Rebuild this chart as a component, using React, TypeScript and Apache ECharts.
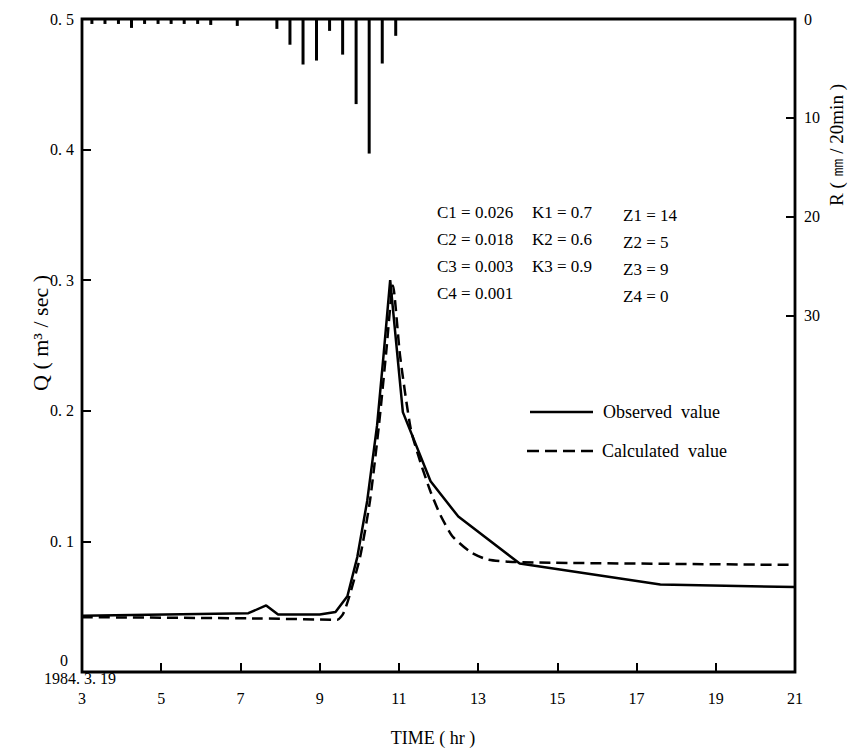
import React, { useEffect, useRef } from "react";
import * as echarts from "echarts";

// ---- data ----
const xTickLabels = [3, 5, 7, 9, 11, 13, 15, 17, 19, 21];
const xTicks = [5, 7, 9, 11, 13, 15, 17, 19];
const rTickLabels = [0, 10, 20, 30];
const rTicks = [10, 20, 30];

const obsTime = [3, 7.2, 7.65, 7.95, 9.0, 9.4, 9.7, 9.95, 10.2, 10.45, 10.62, 10.78, 11.1, 11.8, 12.5, 14.05, 17.6, 21];
const obsQ = [0.043, 0.045, 0.051, 0.044, 0.044, 0.046, 0.058, 0.088, 0.131, 0.189, 0.245, 0.3, 0.199, 0.146, 0.119, 0.083, 0.067, 0.065];

const calTime = [3, 7.5, 9.45, 9.6, 9.75, 10.02, 10.27, 10.5, 10.68, 10.85, 11.03, 11.3, 11.55, 11.8, 12.05, 12.35, 12.8, 13.25, 14.1, 21];
const calQ = [0.042, 0.041, 0.04, 0.045, 0.058, 0.088, 0.131, 0.19, 0.245, 0.296, 0.242, 0.186, 0.16, 0.138, 0.12, 0.104, 0.092, 0.086, 0.084, 0.082];

const rainTime = [3.25, 3.58, 3.92, 4.25, 4.58, 4.92, 5.25, 5.58, 5.92, 6.25, 6.92, 7.92, 8.25, 8.58, 8.92, 9.25, 9.58, 9.92, 10.25, 10.58, 10.92];
const rainMM = [0.5, 0.5, 0.5, 0.9, 0.5, 0.5, 0.5, 0.5, 0.5, 0.6, 0.7, 1.0, 2.6, 4.6, 4.2, 1.2, 3.6, 8.6, 13.6, 4.5, 1.7];

const paramC = ["C1 = 0.026", "C2 = 0.018", "C3 = 0.003", "C4 = 0.001"];
const paramK = ["K1 = 0.7", "K2 = 0.6", "K3 = 0.9"];
const paramZ = ["Z1 = 14", "Z2 = 5", "Z3 = 9", "Z4 = 0"];

const legendNames = ["Observed  value", "Calculated  value"];

const FONT = "'Liberation Serif', 'DejaVu Serif', serif";
const DASH = [11, 6];

export default function App() {
  const ref = useRef<HTMLDivElement>(null);
  useEffect(() => {
    document.body.style.margin = "0";
    const chart = echarts.init(ref.current!, null, { renderer: "svg" });
    const txt = (text: string, x: number, y: number, size: number, align = "left", rotation = 0) => ({
      type: "text",
      x,
      y,
      rotation,
      style: {
        text,
        fontFamily: FONT,
        fontSize: size,
        fill: "#000",
        align,
        verticalAlign: "middle",
      },
    });
    const graphics: any[] = [];
    paramC.forEach((t, i) => graphics.push(txt(t, 437, 212 + i * 27, 17)));
    paramK.forEach((t, i) => graphics.push(txt(t, 532, 212 + i * 27, 17)));
    paramZ.forEach((t, i) => graphics.push(txt(t, 623, 215 + i * 27, 17)));
    graphics.push(txt("0", 64, 660, 16, "center"));
    graphics.push(txt("1984. 3. 19", 80, 678, 16, "center"));
    graphics.push(txt("TIME ( hr )", 433, 738, 18, "center"));
    graphics.push(txt("Q ( m³ / sec )", 40, 333, 22, "center", Math.PI / 2));
    graphics.push(txt("R ( ㎜ / 20min )", 836, 145, 19, "center", Math.PI / 2));
    // legend
    graphics.push({
      type: "line",
      shape: { x1: 530, y1: 412, x2: 593, y2: 412 },
      style: { stroke: "#000", lineWidth: 2.5 },
    });
    graphics.push({
      type: "line",
      shape: { x1: 527, y1: 451, x2: 593, y2: 451 },
      style: { stroke: "#000", lineWidth: 2.5, lineDash: [12, 6] },
    });
    graphics.push(txt(legendNames[0], 603, 412, 18));
    graphics.push(txt(legendNames[1], 602, 451, 18));

    const option: any = {
      animation: false,
      backgroundColor: "#fff",
      textStyle: { fontFamily: FONT, color: "#000" },
      grid: {
        left: 82,
        right: 61,
        top: 19,
        bottom: 79,
        show: true,
        borderColor: "#000",
        borderWidth: 2.8,
        backgroundColor: "transparent",
      },
      xAxis: {
        type: "value",
        min: 3,
        max: 21,
        axisLine: { show: false },
        axisTick: {
          inside: true,
          length: 9,
          lineStyle: { color: "#000", width: 2 },
          customValues: xTicks,
        },
        axisLabel: {
          customValues: xTickLabels,
          margin: 18,
          fontSize: 16,
          color: "#000",
          fontFamily: FONT,
        },
        splitLine: { show: false },
      },
      yAxis: [
        {
          type: "value",
          min: 0,
          max: 0.5,
          interval: 0.1,
          axisLine: { show: false },
          axisTick: { inside: true, length: 9, lineStyle: { color: "#000", width: 2 } },
          axisLabel: {
            margin: 8,
            fontSize: 16,
            color: "#000",
            fontFamily: FONT,
            formatter: (v: number) => (v === 0 ? "" : v.toFixed(1).replace(".", ". ")),
          },
          splitLine: { show: false },
        },
        {
          type: "value",
          min: 0,
          max: 66,
          inverse: true,
          position: "right",
          axisLine: { show: false },
          axisTick: {
            inside: true,
            length: 9,
            lineStyle: { color: "#000", width: 2 },
            customValues: rTicks,
          },
          axisLabel: {
            customValues: rTickLabels,
            margin: 9,
            fontSize: 16,
            color: "#000",
            fontFamily: FONT,
          },
          splitLine: { show: false },
        },
      ],
      series: [
        {
          name: "Rain",
          type: "bar",
          xAxisIndex: 0,
          yAxisIndex: 1,
          barWidth: 3,
          itemStyle: { color: "#000" },
          data: rainTime.map((t, i) => [t, rainMM[i]]),
        },
        {
          name: legendNames[0],
          type: "line",
          yAxisIndex: 0,
          symbol: "none",
          lineStyle: { color: "#000", width: 2.5 },
          data: obsTime.map((t, i) => [t, obsQ[i]]),
        },
        {
          name: legendNames[1],
          type: "line",
          yAxisIndex: 0,
          symbol: "none",
          smooth: 0.2,
          lineStyle: { color: "#000", width: 2.5, type: DASH },
          data: calTime.map((t, i) => [t, calQ[i]]),
        },
      ],
      graphic: graphics,
    };
    chart.setOption(option);
    return () => chart.dispose();
  }, []);
  return (
    <div
      ref={ref}
      style={{ position: "absolute", left: 0, top: 0, width: 856, height: 751, background: "#fff" }}
    />
  );
}
